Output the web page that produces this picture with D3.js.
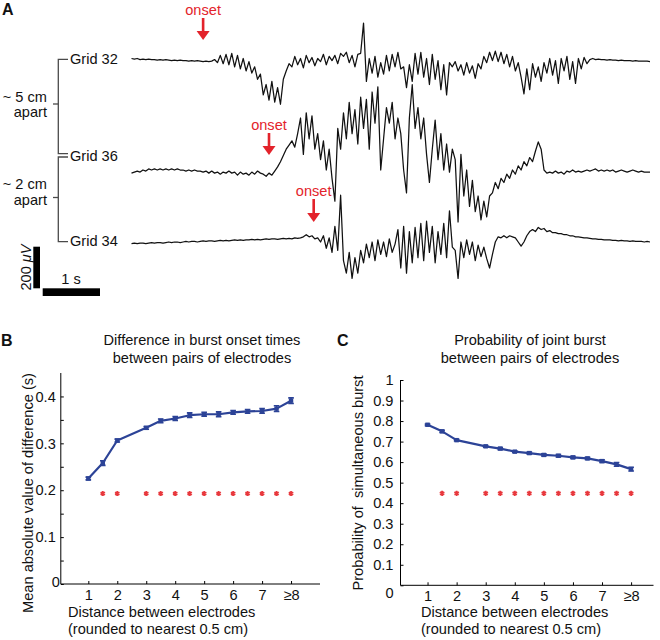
<!DOCTYPE html>
<html><head><meta charset="utf-8">
<script src="https://cdn.jsdelivr.net/npm/d3@7"></script>
<style>
body{margin:0;background:#fff}
svg{display:block}
text{font-family:"Liberation Sans",Arial,Helvetica,sans-serif;fill:#111}
</style>
</head><body>
<svg id="c" width="660" height="640"></svg>
<script>
// ---------------- DATA ----------------
// Panel A: EEG traces (μV), sampled every dt seconds
const dt = 0.05;
const grid32 = [0,-2.5,0,-5,-2.5,-5,-2.5,-5,-5,-7.5,
-5,-7.5,-5,-7.5,-10,-7.5,-10,-7.5,-10,-10,
-12.5,-10,-12.5,-10,-12.5,-15,-12.5,-15,-12.5,-5,
-20,15,-25,20,-30,25,-40,15,-50,0,
-60,-15,-70,-40,-100,-75,-175,-125,-200,-110,
-210,-140,-220,-100,-60,-25,-40,10,-30,0,
-45,15,-20,5,-35,0,-15,20,-30,10,
-10,15,-25,25,10,30,-20,15,-40,20,
25,170,-110,0,-70,10,-90,-20,-75,15,
-60,20,-40,30,-50,-40,-140,-30,-110,25,
-75,30,-90,0,-125,20,-100,-10,-150,-30,
-175,-20,-40,-15,-60,-30,-80,-20,-70,-35,
-95,-25,-50,10,-20,30,-10,35,-15,30,
-25,20,-40,10,-60,-20,-90,-170,-50,-150,
-25,-90,-40,-110,-20,-70,0,-80,-10,-120,
0,-60,10,-100,-15,-120,0,-50,5,-25,
-5,0,-5,-2.5,-5,-5,-7.5,-5,-7.5,-7.5,
-10,-7.5,-10,-10,-10,-12.5,-10,-12.5,-12.5,-12.5,
-12.5,-15];
const grid36 = [-15,-10,-5,-10,0,-5,5,0,5,0,
5,0,5,0,5,0,5,0,0,-5,
0,-5,0,-5,-5,-10,-5,-15,-5,-15,
-10,-20,-10,-15,-5,-15,-10,-25,-10,-20,
-15,-25,-10,-20,-5,-15,-20,-30,-15,-25,
-5,15,40,70,100,120,140,110,175,250,
75,275,150,260,100,175,50,140,0,100,
-40,-150,200,100,275,150,325,175,290,125,
350,200,340,100,375,225,400,0,150,300,
225,325,150,250,175,0,-110,250,410,200,
300,150,250,75,-60,100,240,50,175,0,
125,-10,100,50,-250,75,-125,0,-175,-50,
-200,-125,-240,-150,-225,-125,-110,-60,-90,-40,
-60,-20,-40,0,-20,20,0,40,20,60,
40,90,135,100,0,-15,-10,-15,-5,-15,
-10,-20,-5,-10,0,-10,-5,-10,-5,0,
-5,0,5,-5,0,-5,0,-5,0,-10,
-5,0,-5,-10,-5,0,-5,-10,-5,-10,
-10,-10];
const grid34 = [-7.5,-5,-7.5,-5,-5,-7.5,-5,-2.5,-5,-2.5,
-2.5,-5,-2.5,0,-2.5,0,0,-2.5,0,2.5,
0,2.5,2.5,0,2.5,5,2.5,5,5,2.5,
5,7.5,5,7.5,5,7.5,10,7.5,10,7.5,
10,10,12.5,10,12.5,10,12.5,15,12.5,15,
15,12.5,15,17.5,15,17.5,15,20,17.5,20,
25,35,25,30,15,20,0,30,-30,20,
-50,75,-40,225,-90,-150,-50,-175,-75,-150,
-40,-100,-10,-75,0,-90,10,-60,0,-70,
15,-50,-10,60,-125,75,-150,50,-100,70,
-75,90,-90,100,-50,75,-100,50,-60,90,
-75,150,-25,-40,-175,0,-75,10,-60,0,
-90,-15,-70,-25,-80,-125,-60,0,25,20,
30,20,30,25,20,0,-20,0,30,50,
60,50,70,60,65,50,55,45,45,40,
40,35,35,30,30,25,25,22.5,20,20,
17.5,15,15,12.5,12.5,10,10,10,7.5,7.5,
5,7.5,5,5,2.5,5,2.5,2.5,2.5,0,
2.5,0];
const traceNames = ["Grid 32", "Grid 36", "Grid 34"];
const onsetTimes = [1.25, 2.40, 3.18];   // seconds
const scaleBarUV = 200, scaleBarSec = 1;

// Panels B and C
const distances = [1,1.5,2,3,3.5,4,4.5,5,5.5,6,6.5,7,7.5,8];
const onsetDiffMean = [0.225,0.258,0.306,0.333,0.348,0.353,0.360,0.362,0.362,0.366,0.368,0.369,0.374,0.391];
const onsetDiffErr  = [0.003,0.005,0.003,0.003,0.004,0.004,0.005,0.004,0.005,0.004,0.004,0.005,0.006,0.006];
const jointProb     = [0.782,0.750,0.707,0.677,0.666,0.651,0.644,0.635,0.631,0.623,0.618,0.605,0.589,0.566];
const jointProbErr  = [0.004,0.005,0.004,0.004,0.005,0.004,0.005,0.005,0.006,0.005,0.005,0.006,0.009,0.009];
const sigDistances = [1.5,2,3,3.5,4,4.5,5,5.5,6,6.5,7,7.5,8];
const sigLevelB = 0.193, sigLevelC = 0.448;
const xTickValues = [1,2,3,4,5,6,7,8];
const xTickLabels = ["1","2","3","4","5","6","7","\u22658"];

// ---------------- DRAW ----------------
const svg = d3.select("#c");
const RED = "#e3232b";
const FS = 14.6;

// Panel A
const tx = d3.scaleLinear().domain([0, 9.05]).range([131.5, 650]);
const uv = d3.scaleLinear().domain([0, 200]).range([0, -41.6]);
const baselines = [58.5, 170, 242];
const traces = [grid32, grid36, grid34];
const line = d3.line().x((d,i)=>tx(i*dt)).y(d=>uv(d)).curve(d3.curveLinear);
const gA = svg.append("g");
traces.forEach((tr,k)=>{
  gA.append("path").attr("transform",`translate(0,${baselines[k]})`)
    .attr("d", line(tr)).attr("fill","none").attr("stroke","#111")
    .attr("stroke-width",1.25).attr("stroke-linejoin","round");
});
gA.append("text").attr("x",2).attr("y",15).attr("font-size",16).attr("font-weight","bold").text("A");

// labels and brackets
const labelY = [63.5, 161, 245.5];
traceNames.forEach((n,k)=>gA.append("text").attr("x",70).attr("y",labelY[k]).attr("font-size",FS).text(n));
const br = gA.append("g").attr("fill","none").attr("stroke","#4a4a4a").attr("stroke-width",1.3);
br.append("path").attr("d","M68,59.3H58.3V153.6H68");
br.append("path").attr("d","M68,157H58.3V241.7H68");
br.append("path").attr("d","M58.3,104H53");
br.append("path").attr("d","M58.3,197.5H53");
[["~ 5 cm",102],["apart",117],["~ 2 cm",189],["apart",205]].forEach(([t,y])=>
  gA.append("text").attr("x",47).attr("y",y).attr("text-anchor","end").attr("font-size",FS).text(t));

// onset arrows
const tipY = [40, 155, 222], textY = [15, 130, 196];
onsetTimes.forEach((t,k)=>{
  const x = tx(t);
  gA.append("text").attr("x",x).attr("y",textY[k]).attr("text-anchor","middle")
    .attr("font-size",FS).style("fill",RED).text("onset");
  gA.append("rect").attr("x",x-1.3).attr("y",textY[k]+3).attr("width",2.6).attr("height",tipY[k]-textY[k]-10).attr("fill",RED);
  gA.append("path").attr("d",`M${x-6.5},${tipY[k]-9}L${x+6.5},${tipY[k]-9}L${x},${tipY[k]}Z`).attr("fill",RED);
});

// scale bars
gA.append("rect").attr("x",33.3).attr("y",246.7).attr("width",6.7).attr("height",-uv(scaleBarUV)).attr("fill","#000");
gA.append("rect").attr("x",42.7).attr("y",246.7-uv(scaleBarUV)).attr("width",tx(scaleBarSec)-tx(0)).attr("height",7.7).attr("fill","#000");
gA.append("text").attr("x",71).attr("y",283.5).attr("text-anchor","middle").attr("font-size",FS).text("1 s");
const uvt = gA.append("text").attr("transform","translate(31,267.5) rotate(-90)").attr("text-anchor","middle").attr("font-size",FS);
uvt.append("tspan").text("200 ");
uvt.append("tspan").attr("font-style","italic").text("\u03bcV");

// Panels B & C
function panel(o){
  const g = svg.append("g");
  const x = d3.scaleLinear().domain(o.xd).range(o.xr);
  const y = d3.scaleLinear().domain(o.yd).range(o.yr);
  const ya = g.append("g").attr("transform",`translate(${o.xr[0]},0)`)
    .call(d3.axisLeft(y).tickValues(o.yTicks).tickSize(-3).tickSizeOuter(0).tickPadding(o.yPad).tickFormat(o.yFmt));
  const xa = g.append("g").attr("transform",`translate(0,${o.yr[0]})`)
    .call(d3.axisBottom(x).tickValues(xTickValues).tickSize(-3).tickSizeOuter(0).tickPadding(o.xPad).tickFormat((d,i)=>xTickLabels[i]));
  [ya,xa].forEach(a=>{
    a.selectAll("text").attr("font-size",FS).attr("font-family",null).style("fill","#111");
    a.selectAll("path,line").attr("stroke","#000").attr("stroke-width",1);
  });
  ya.selectAll(".tick").filter(d=>d===0).select("text").attr("dx",o.zeroDx).attr("dy",o.zeroDy);
  ya.select(".domain").attr("d",`M0,${o.yr[0]}V${o.yr[1]}`);
  xa.select(".domain").attr("d",`M${o.xr[0]},0H${o.xr[1]}`);

  const BLUE = "#2c4397";
  const ln = d3.line().x((d,i)=>x(distances[i])).y(d=>y(d));
  g.append("path").attr("d",ln(o.mean)).attr("fill","none").attr("stroke",BLUE).attr("stroke-width",2.2).attr("stroke-linejoin","round");
  o.mean.forEach((m,i)=>{
    const cx = x(distances[i]), e = o.err[i];
    g.append("path").attr("d",`M${cx},${y(m-e)}V${y(m+e)}M${cx-2.8},${y(m-e)}H${cx+2.8}M${cx-2.8},${y(m+e)}H${cx+2.8}`)
      .attr("stroke",BLUE).attr("stroke-width",1.6).attr("fill","none");
    g.append("rect").attr("x",cx-2.2).attr("y",y(m)-2.2).attr("width",4.4).attr("height",4.4).attr("fill",BLUE);
  });
  const star = d3.symbol().type(d3.symbolAsterisk).size(18);
  sigDistances.forEach(d=>{
    g.append("path").attr("d",star()).attr("transform",`translate(${x(d)},${y(o.sig)})`)
      .attr("stroke","#e8383d").attr("stroke-width",1.8).attr("fill","none");
  });
  g.append("text").attr("x",o.lx).attr("y",346).attr("font-size",16).attr("font-weight","bold").text(o.letter);
  o.title.forEach((t,i)=>g.append("text").attr("x",o.tx).attr("y",345+i*17.5).attr("text-anchor","middle").attr("font-size",FS).text(t));
  ["Distance between electrodes","(rounded to nearest 0.5 cm)"].forEach((t,i)=>
    g.append("text").attr("x",o.xlx).attr("y",617+i*17).attr("font-size",FS).text(t));
  g.append("text").attr("transform",`translate(${o.ylx},${o.yly}) rotate(-90)`).attr("text-anchor","middle")
    .attr("font-size",FS).style("white-space","pre").attr("xml:space","preserve").text(o.ylabel);
}

panel({letter:"B", lx:1, xd:[0.05,9], xr:[60.8,320], yd:[0,0.45], yr:[584,373],
  yTicks:d3.range(9).map(i=>+(i*0.05).toFixed(2)),
  yFmt:d=>(Math.round(d*100)%10===0 ? (d===0?"0":d.toFixed(1)) : ""),
  yPad:5, xPad:6, zeroDx:4, zeroDy:"0.2em",
  mean:onsetDiffMean, err:onsetDiffErr, sig:sigLevelB,
  title:["Difference in burst onset times","between pairs of electrodes"], tx:202,
  xlx:68, ylx:33, yly:493, ylabel:"Mean absolute value of difference (s)"});

panel({letter:"C", lx:337, xd:[0.07,8.77], xr:[400.5,653.5], yd:[0,1], yr:[585.3,380],
  yTicks:d3.range(11).map(i=>+(i*0.1).toFixed(1)),
  yFmt:d=>(d===0?"0":d===1?"1":d.toFixed(1)),
  yPad:7, xPad:5, zeroDx:0, zeroDy:"0.85em",
  mean:jointProb, err:jointProbErr, sig:sigLevelC,
  title:["Probability of joint burst","between pairs of electrodes"], tx:530,
  xlx:421, ylx:363, yly:483, ylabel:"Probability of  simultaneous burst"});
</script>
</body></html>
